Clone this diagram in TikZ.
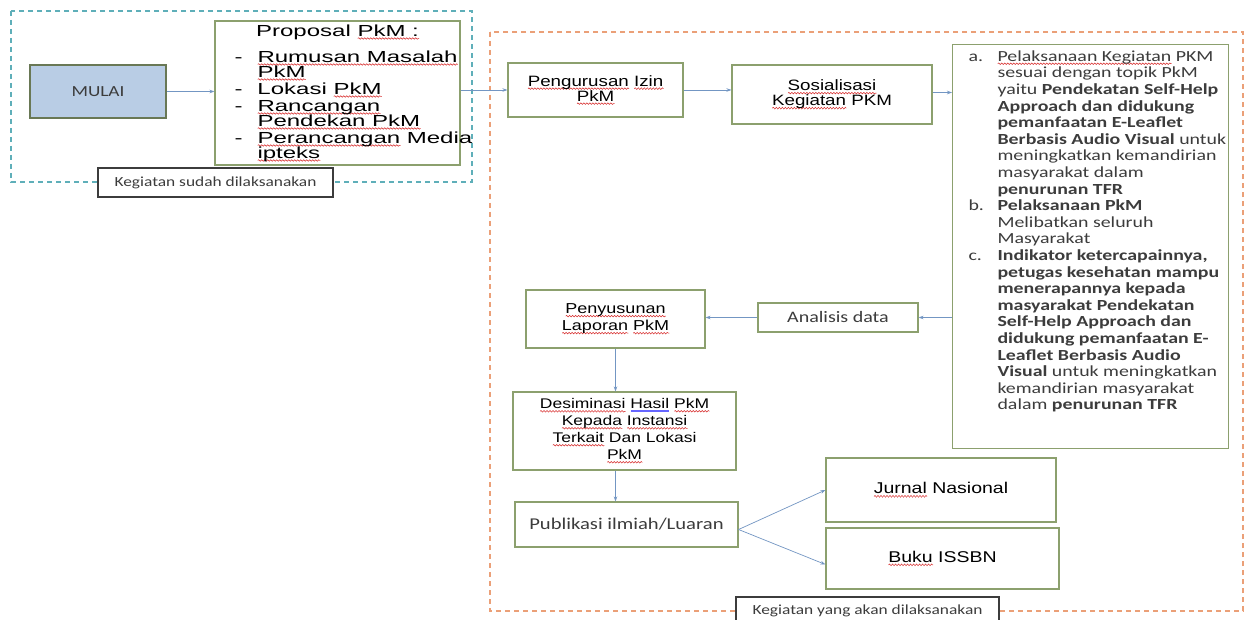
\documentclass[tikz,border=0pt]{standalone}
\usepackage{fontspec}
\usetikzlibrary{arrows.meta,decorations.pathmorphing}
\setmainfont{Liberation Sans}
\newfontfamily\arialf[FakeStretch=1.25]{Liberation Sans}
\newfontfamily\arialx[FakeStretch=1.5]{Liberation Sans}
\newfontfamily\calf[FakeStretch=1.25]{Carlito}
\newfontfamily\calx[FakeStretch=1.29]{Carlito}
\definecolor{garis}{RGB}{140,160,110}
\definecolor{garisgelap}{RGB}{105,120,85}
\definecolor{biruisi}{RGB}{185,205,229}
\definecolor{panahbiru}{RGB}{115,150,195}
\definecolor{tosca}{RGB}{95,175,185}
\definecolor{oranye}{RGB}{235,160,120}
\definecolor{merah}{RGB}{215,40,40}
\definecolor{abu}{RGB}{60,60,60}
\newlength{\salw}
\newcommand{\sal}[1]{\settowidth{\salw}{#1}\makebox[0pt][l]{\raisebox{-3.5pt}{\tikz[x=1pt,y=1pt]\draw[merah,solid,line width=0.5pt,decorate,decoration={snake,amplitude=0.8pt,segment length=3pt}] (0,0) -- (\salw,0);}}#1}% garis merah bergelombang
\newcommand{\biru}[1]{\settowidth{\salw}{#1}\makebox[0pt][l]{\raisebox{-3pt}{\tikz[x=1pt,y=1pt]\draw[blue!60,solid,line width=0.5pt] (0,0) -- (\salw,0) (0,1.5) -- (\salw,1.5);}}#1}
\newcommand{\butir}[2]{\makebox[29pt][l]{#1}\mbox{#2}}% huruf a. b. c. lalu isi
\newcommand{\poin}[2]{\makebox[240pt][l]{\makebox[40pt][l]{\hspace{17pt}#1}#2}}
\newcommand{\fA}{\arialf\fontsize{15}{15}\selectfont\lineskiplimit=-50pt}
\newcommand{\fC}{\calf\fontsize{16}{18}\selectfont\lineskiplimit=-50pt}

\begin{document}
\begin{tikzpicture}[x=1pt,y=-1pt,>={Stealth[length=5pt,width=3.5pt]},
	kotak/.style={draw=garis,line width=1.1pt,fill=white,inner sep=2pt,align=center,font=\fA},
	ket/.style={draw=abu,line width=1.1pt,fill=white,inner sep=2pt,text=abu,font={\calf\fontsize{13.9}{16}\selectfont}},
	panah/.style={->,draw=panahbiru,line width=0.7pt},
	batas/.style={dash pattern=on 5pt off 4pt,line width=1.1pt}]
	\useasboundingbox (0,0) rectangle (1246,620);
	\fill[white] (0,0) rectangle (1246,620);

	% dua daerah bergaris putus
	\draw[batas,tosca] (11,11) rectangle (472,182);
	\draw[batas,oranye] (490,32) rectangle (1243,611);

	\node[kotak,draw=garisgelap,line width=1.6pt,fill=biruisi,minimum width=136pt,minimum height=53pt,text=abu,font={\calf\fontsize{15.4}{18}\selectfont}] (mulai) at (98,91.5) {MULAI};
	\node[kotak,minimum width=245pt,minimum height=144pt,align=left,font={\arialx\fontsize{16}{15}\selectfont\lineskiplimit=-50pt}] (proposal) at (337.5,93)
		{\makebox[240pt][c]{Proposal \sal{PkM :}}\\[11pt]
		\poin{-}{\sal{Rumusan Masalah}}\\
		\poin{}{\sal{PkM}}\\[2pt]
		\poin{-}{Lokasi \sal{PkM}}\\[2pt]
		\poin{-}{\sal{Rancangan}}\\
		\poin{}{\sal{Pendekan PkM}}\\[2pt]
		\poin{-}{\sal{Perancangan} Media}\\
		\poin{}{\sal{ipteks}}};
	\node[ket,minimum width=235pt,minimum height=29pt] (sudah) at (215.5,182.5) {Kegiatan sudah dilaksanakan};

	\node[kotak,minimum width=175pt,minimum height=54pt] (izin) at (595.5,90) {\sal{Pengurusan} \sal{Izin}\\\sal{PkM}};
	\node[kotak,minimum width=200pt,minimum height=59pt] (sosial) at (832,94.5) {\sal{Sosialisasi}\\\sal{Kegiatan} PKM};
	\node[kotak,anchor=north west,inner xsep=16pt,inner ysep=6pt,align=left,text=abu,font={\calx\fontsize{15.4}{16.6}\selectfont\lineskiplimit=-50pt}] (isi) at (952,44)
		{\parbox[t][392pt][t]{244pt}{%
		\butir{a.}{\sal{Pelaksanaan Kegiatan} PKM}\\
		\butir{}{sesuai dengan topik PkM}\\
		\butir{}{yaitu \textbf{Pendekatan Self-Help}}\\
		\butir{}{\textbf{Approach dan didukung}}\\
		\butir{}{\textbf{pemanfaatan E-Leaflet}}\\
		\butir{}{\textbf{Berbasis Audio Visual} untuk}\\
		\butir{}{meningkatkan kemandirian}\\
		\butir{}{masyarakat dalam}\\
		\butir{}{\textbf{penurunan TFR}}\\
		\butir{b.}{\textbf{Pelaksanaan PkM}}\\
		\butir{}{Melibatkan seluruh}\\
		\butir{}{Masyarakat}\\
		\butir{c.}{\textbf{Indikator ketercapainnya,}}\\
		\butir{}{\textbf{petugas kesehatan mampu}}\\
		\butir{}{\textbf{menerapannya kepada}}\\
		\butir{}{\textbf{masyarakat Pendekatan}}\\
		\butir{}{\textbf{Self-Help Approach dan}}\\
		\butir{}{\textbf{didukung pemanfaatan E-}}\\
		\butir{}{\textbf{Leaflet Berbasis Audio}}\\
		\butir{}{\textbf{Visual} untuk meningkatkan}\\
		\butir{}{kemandirian masyarakat}\\
		\butir{}{dalam \textbf{penurunan TFR}}}};

	\node[kotak,minimum width=160pt,minimum height=29pt,text=abu,font=\fC] (analisis) at (838,317.5) {Analisis data};
	\node[kotak,minimum width=179pt,minimum height=58pt,font={\arialf\fontsize{14.4}{17}\selectfont\lineskiplimit=-50pt}] (laporan) at (615.5,319) {\sal{Penyusunan}\\\sal{Laporan} \sal{PkM}};
	\node[kotak,minimum width=223pt,minimum height=78pt,font={\arialf\fontsize{14}{17}\selectfont\lineskiplimit=-50pt}] (desiminasi) at (624.5,431)
		{\sal{Desiminasi} \biru{Hasil} \sal{PkM}\\\sal{Kepada} \sal{Instansi}\\\sal{Terkait} Dan Lokasi\\\sal{PkM}};
	\node[kotak,minimum width=223pt,minimum height=45pt,text=abu,font={\calf\fontsize{16.5}{18}\selectfont}] (publikasi) at (626.5,524.5) {Publikasi ilmiah/Luaran};
	\node[kotak,minimum width=230pt,minimum height=64pt,font={\arialf\fontsize{15.6}{17}\selectfont}] (jurnal) at (941,490) {\sal{Jurnal} Nasional};
	\node[kotak,minimum width=233pt,minimum height=61pt,font={\arialf\fontsize{15.6}{17}\selectfont}] (buku) at (942.5,558.5) {\sal{Buku} ISSBN};
	\node[ket,minimum width=263pt,minimum height=27pt] (akan) at (867.5,610.5) {Kegiatan yang akan dilaksanakan};

	% alur
	\draw[panah] (mulai.east) -- (mulai.east -| proposal.west);
	\draw[panah] (proposal.east |- izin.west) -- (izin.west);
	\draw[panah] (izin.east) -- (izin.east -| sosial.west);
	\draw[panah] ([yshift=2pt]sosial.east) -- ([yshift=2pt]sosial.east -| isi.west);
	\draw[panah] (isi.west |- analisis.east) -- (analisis.east);
	\draw[panah] (analisis.west) -- (analisis.west -| laporan.east);
	\draw[panah] (laporan.south) -- (laporan.south |- desiminasi.north);
	\draw[panah] (desiminasi.south -| laporan.south) -- (publikasi.north -| laporan.south);
	\coordinate (cabang) at ([yshift=-5pt]publikasi.east);
	\draw[panah] (cabang) -- (jurnal.west);
	\draw[panah] (cabang) -- ([yshift=-6pt]buku.west);
\end{tikzpicture}
\end{document}
